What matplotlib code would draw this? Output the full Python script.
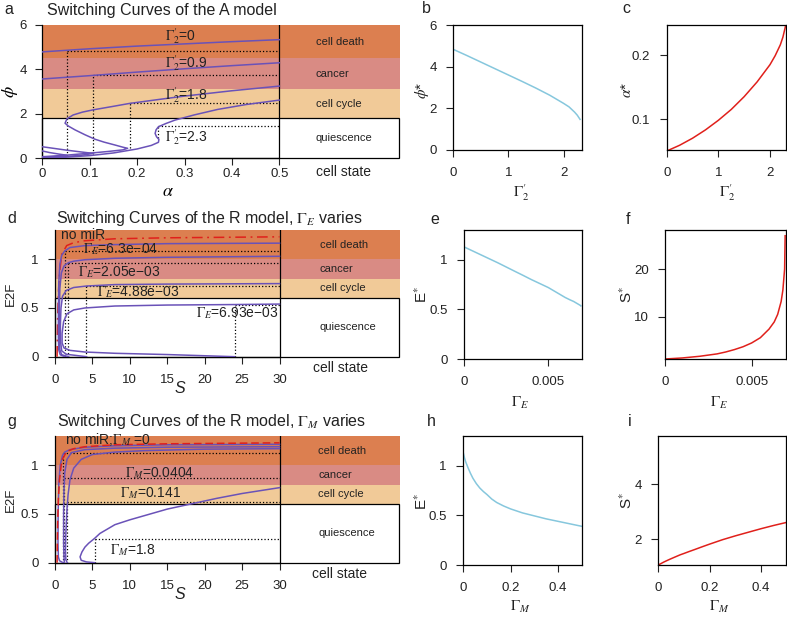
import matplotlib
matplotlib.use("Agg")
import matplotlib.pyplot as plt
from matplotlib.patches import Rectangle

plt.rcParams['font.family'] = ['Liberation Sans', 'DejaVu Sans']
plt.rcParams['mathtext.fontset'] = 'stix'
plt.rcParams['axes.linewidth'] = 0.9

# ---------------- data ----------------
band_names = ['cell death', 'cancer', 'cell cycle', 'quiescence']
a_band_edges = [6.0, 4.5, 3.1, 1.8, 0.0]
r_band_edges = [1.3, 1.0, 0.8, 0.6, 0.0]

# panel a: switching curves (alpha, phi) for Gamma'_2 = 0, 0.9, 1.8, 2.3
a_gamma_labels = ['0', '0.9', '1.8', '2.3']
a_g0_up_alpha = [0, 0.1, 0.2, 0.3, 0.4, 0.5]
a_g0_up_phi = [4.79, 4.93, 5.05, 5.15, 5.25, 5.34]
a_g0_low_alpha = [0, 0.02, 0.04, 0.051, 0.035, 0.015, 0]
a_g0_low_phi = [0.03, 0.06, 0.1, 0.14, 0.19, 0.26, 0.33]
a_g09_up_alpha = [0, 0.1, 0.2, 0.3, 0.4, 0.5]
a_g09_up_phi = [3.57, 3.72, 3.88, 4.03, 4.17, 4.3]
a_g09_low_alpha = [0, 0.04, 0.08, 0.108, 0.08, 0.05, 0.02, 0]
a_g09_low_phi = [0.02, 0.07, 0.13, 0.22, 0.29, 0.37, 0.46, 0.52]
a_g18_alpha = [0, 0.05, 0.1, 0.14, 0.17, 0.18, 0.17, 0.153, 0.13, 0.111, 0.09, 0.069,
               0.055, 0.048, 0.052, 0.065, 0.085, 0.107, 0.15, 0.184, 0.25, 0.3, 0.4, 0.5]
a_g18_phi = [0.07, 0.14, 0.23, 0.31, 0.38, 0.45, 0.5, 0.6, 0.73, 0.86, 1.06, 1.28,
             1.45, 1.58, 1.78, 1.95, 2.08, 2.18, 2.34, 2.47, 2.66, 2.8, 3.04, 3.25]
a_g23_alpha = [0, 0.05, 0.1, 0.15, 0.2, 0.23, 0.245, 0.246, 0.241, 0.238, 0.24, 0.245,
               0.26, 0.28, 0.32, 0.37, 0.43, 0.5]
a_g23_phi = [0.0, 0.05, 0.12, 0.24, 0.42, 0.58, 0.72, 0.85, 0.97, 1.12, 1.28, 1.42,
             1.56, 1.72, 1.95, 2.2, 2.42, 2.62]
a_alpha_star = [0.052, 0.108, 0.184, 0.245]
a_phi_star = [4.85, 3.74, 2.48, 1.45]
a_dot_bottom = [0.12, 0.2, 0.45, 0.9]

# panel b / c
bc_gamma = [0, 0.25, 0.5, 0.75, 1.0, 1.25, 1.5, 1.75, 2.0, 2.1, 2.2, 2.25, 2.3]
b_phi_star = [4.83, 4.53, 4.22, 3.91, 3.6, 3.29, 2.97, 2.63, 2.24, 2.07, 1.82, 1.67, 1.47]
c_alpha_star = [0.05, 0.059, 0.07, 0.083, 0.098, 0.115, 0.135, 0.158, 0.185, 0.199,
                0.216, 0.228, 0.245]

# panel d: R model, Gamma_E varies  (S, E2F)
nomir_S = [0.28, 0.3, 0.35, 0.45, 0.6, 0.9, 1.56, 2.5, 4, 8, 15, 30]
nomir_E = [0.0, 0.15, 0.4, 0.65, 0.85, 1.05, 1.14, 1.17, 1.19, 1.21, 1.22, 1.23]
d_labels = ['6.3e\u221204', '2.05e\u221203', '4.88e\u221203', '6.93e\u221203']
d_e1_S = [30, 15, 8, 4, 2, 1.3, 0.9, 0.65, 0.5, 0.45, 0.45, 0.5, 0.7, 1.3]
d_e1_E = [1.165, 1.16, 1.15, 1.14, 1.12, 1.085, 1.04, 0.95, 0.75, 0.45, 0.2, 0.07, 0.02, 0.0]
d_e2_S = [30, 15, 8, 4, 2.5, 1.8, 1.2, 0.85, 0.65, 0.58, 0.58, 0.65, 0.9, 1.8]
d_e2_E = [1.03, 1.02, 1.01, 0.995, 0.98, 0.965, 0.93, 0.86, 0.7, 0.45, 0.2, 0.07, 0.02, 0.0]
d_e3_S = [30, 15, 8, 4.2, 2.5, 1.5, 1.0, 0.8, 0.72, 0.75, 0.9, 1.5, 4.2]
d_e3_E = [0.75, 0.745, 0.74, 0.725, 0.71, 0.68, 0.62, 0.5, 0.32, 0.15, 0.06, 0.025, 0.0]
d_e4_S = [30, 24, 15, 8, 4, 2.5, 1.6, 1.15, 0.95, 0.95, 1.2, 2, 4, 8, 15, 24]
d_e4_E = [0.54, 0.535, 0.53, 0.52, 0.5, 0.48, 0.44, 0.36, 0.24, 0.14, 0.09, 0.065, 0.048, 0.035, 0.022, 0.0]
d_S_star = [1.3, 1.8, 4.2, 24.0]
d_E_star = [1.08, 0.965, 0.725, 0.535]

# panel e / f
ef_gammaE = [0, 0.001, 0.002, 0.003, 0.0035, 0.004, 0.0045, 0.005, 0.0055, 0.006,
             0.0063, 0.0065, 0.0067, 0.0068, 0.0069, 0.00693]
e_E_star = [1.13, 1.05, 0.97, 0.885, 0.843, 0.8, 0.76, 0.72, 0.67, 0.62,
            0.595, 0.58, 0.56, 0.55, 0.54, 0.535]
f_S_star = [1.13, 1.35, 1.7, 2.2, 2.6, 3.1, 3.7, 4.5, 5.6, 7.4,
            8.9, 10.5, 13.2, 15.6, 20.0, 27.0]

# panel g: R model, Gamma_M varies
g_labels = ['0', '0.0404', '0.141', '1.8']
g_m0_S = [30, 15, 8, 4, 2, 1.3, 1.0, 0.7, 0.5, 0.42, 0.4, 0.45, 0.6, 1.07]
g_m0_E = [1.215, 1.21, 1.2, 1.185, 1.16, 1.135, 1.1, 1.0, 0.8, 0.5, 0.2, 0.06, 0.02, 0.0]
g_m1_S = [30, 15, 8, 4, 2.2, 1.6, 1.3, 1.2, 1.15, 1.15, 1.2, 1.25]
g_m1_E = [1.19, 1.185, 1.175, 1.16, 1.13, 1.06, 0.92, 0.75, 0.5, 0.2, 0.06, 0.0]
g_m2_S = [30, 20, 12, 8, 5, 3.5, 2.5, 2.0, 1.75, 1.6, 1.45, 1.4, 1.45, 1.63]
g_m2_E = [1.17, 1.165, 1.15, 1.135, 1.11, 1.06, 0.97, 0.85, 0.7, 0.55, 0.3, 0.12, 0.03, 0.0]
g_m3_S = [30, 25, 21.6, 15, 10, 8, 6, 5.3, 4.5, 4.0, 3.6, 3.35, 3.5, 4.2, 5.3]
g_m3_E = [0.77, 0.71, 0.66, 0.55, 0.44, 0.39, 0.3, 0.25, 0.2, 0.16, 0.11, 0.06, 0.025, 0.008, 0.0]
g_S_star = [1.07, 1.25, 1.63, 5.3]
g_E_star = [1.13, 0.87, 0.62, 0.24]

# panel h / i
hi_gammaM = [0, 0.005, 0.01, 0.02, 0.03, 0.0404, 0.055, 0.07, 0.085, 0.1, 0.12, 0.141,
             0.17, 0.2, 0.25, 0.3, 0.35, 0.4, 0.45, 0.5]
h_E_star = [1.13, 1.08, 1.04, 0.98, 0.925, 0.875, 0.82, 0.775, 0.74, 0.71, 0.665, 0.63,
            0.595, 0.565, 0.525, 0.495, 0.465, 0.44, 0.415, 0.39]
i_S_star = [1.07, 1.095, 1.12, 1.17, 1.215, 1.26, 1.32, 1.38, 1.44, 1.49, 1.56, 1.63,
            1.73, 1.83, 1.99, 2.13, 2.26, 2.39, 2.51, 2.62]

# ---------------- style ----------------
DEATH = '#DC7F50'
CANCER = '#D98B84'
CYCLE = '#F1CA98'
PURPLE = '#6A52B8'
RED = '#E0201B'
BLUE = '#86C7DD'
band_colors = [DEATH, CANCER, CYCLE]
TXT = '#222222'

W, H = 787, 617
fig = plt.figure(figsize=(W / 100, H / 100), dpi=100)


def add_px(l, t, r, b):
    return fig.add_axes([l / W, 1 - b / H, (r - l) / W, (b - t) / H])


def tick_style(ax, xpad=7.5, ypad=7):
    ax.tick_params(axis='both', direction='out', length=4.8, width=0.8,
                   labelsize=9.5, colors=TXT)
    ax.tick_params(axis='x', pad=xpad)
    ax.tick_params(axis='y', pad=ypad)


def state_panel(ax, edges, xmax, xsplit, text_x):
    for i in range(3):
        ax.axhspan(edges[i + 1], edges[i], color=band_colors[i], lw=0, zorder=0)
    ax.add_patch(Rectangle((0, 0), xmax * 0.997, edges[3], facecolor='white',
                           edgecolor='black', lw=0.9, zorder=0.5, clip_on=False))
    ax.plot([xsplit, xsplit], [0, edges[0]], color='black', lw=0.9, zorder=3)
    for i, name in enumerate(band_names):
        ax.text(text_x, (edges[i] + edges[i + 1]) / 2, name, fontsize=8,
                va='center', ha='left', color=TXT)
    for s in ['top', 'right']:
        ax.spines[s].set_visible(False)


def dotted(ax, xs, ys, y0s, xend):
    for x, y, y0 in zip(xs, ys, y0s):
        ax.plot([x, x], [y0, y], ls=':', color='black', lw=0.9, zorder=2)
        ax.plot([x, xend], [y, y], ls=':', color='black', lw=0.9, zorder=2)


G2 = r"$\Gamma^{\prime}_{2}$"

# ---------------- panel a ----------------
ax = add_px(42.3, 25, 400, 158.3)
amax = 0.7546
ax.set_xlim(0, amax)
ax.set_ylim(0, 6)
state_panel(ax, a_band_edges, amax, 0.5, 0.577)
dotted(ax, a_alpha_star, a_phi_star, a_dot_bottom, 0.5)
for xs, ys in [(a_g0_up_alpha, a_g0_up_phi), (a_g0_low_alpha, a_g0_low_phi),
               (a_g09_up_alpha, a_g09_up_phi), (a_g09_low_alpha, a_g09_low_phi),
               (a_g18_alpha, a_g18_phi), (a_g23_alpha, a_g23_phi)]:
    ax.plot(xs, ys, color=PURPLE, lw=1.1, zorder=4)
for lab, yy in zip(a_gamma_labels, [5.5, 4.28, 2.85, 0.97]):
    ax.text(0.259, yy, G2 + "=" + lab, fontsize=10, va='center', ha='left',
            zorder=5, color=TXT)
ax.set_xticks([0, 0.1, 0.2, 0.3, 0.4, 0.5])
ax.set_xticklabels(['0', '0.1', '0.2', '0.3', '0.4', '0.5'])
ax.set_yticks([0, 2, 4, 6])
ax.set_yticklabels(['0', '2', '4', '6'])
ax.spines['bottom'].set_bounds(0, 0.5)
ax.spines['left'].set_bounds(0, 6)
tick_style(ax, xpad=2.0, ypad=6.5)
ax.text(0.577, -0.1, 'cell state', transform=ax.get_xaxis_transform(), fontsize=10,
        va='center', ha='left', color=TXT)
ax.text(0.265, -0.25, r'$\alpha$', transform=ax.get_xaxis_transform(), fontsize=13,
        ha='center', va='center')
ax.text(-0.09, 3.0, r'$\phi$', transform=ax.get_yaxis_transform(), fontsize=13,
        ha='center', va='center', rotation=90)

# ---------------- panel d ----------------
ax = add_px(55, 230, 400, 356.7)
smax = 46.1
ax.set_xlim(0, smax)
ax.set_ylim(0, 1.3)
state_panel(ax, r_band_edges, smax, 30, 35.4)
dotted(ax, d_S_star, d_E_star, [0, 0, 0, 0], 30)
ax.plot(nomir_S, nomir_E, color=RED, lw=1.1, ls=(0, (7, 3, 1.2, 3)), zorder=4)
for xs, ys in [(d_e1_S, d_e1_E), (d_e2_S, d_e2_E), (d_e3_S, d_e3_E), (d_e4_S, d_e4_E)]:
    ax.plot(xs, ys, color=PURPLE, lw=1.1, zorder=4)
ax.text(0.76, 1.245, 'no miR', fontsize=10, va='center', ha='left', color=TXT, zorder=5)
for lab, xx, yy, ha in zip(d_labels, [3.8, 3.1, 5.6, 29.9], [1.10, 0.87, 0.66, 0.445],
                           ['left', 'left', 'left', 'right']):
    ax.text(xx, yy, r'$\Gamma_E$=' + lab, fontsize=10, va='center', ha=ha,
            color=TXT, zorder=5)

# ---------------- panel g ----------------
ax2 = add_px(55, 436, 400, 562.7)
ax2.set_xlim(0, smax)
ax2.set_ylim(0, 1.3)
state_panel(ax2, r_band_edges, smax, 30, 35.2)
dotted(ax2, g_S_star, g_E_star, [0, 0, 0, 0], 30)
for xs, ys in [(g_m0_S, g_m0_E), (g_m1_S, g_m1_E), (g_m2_S, g_m2_E), (g_m3_S, g_m3_E)]:
    ax2.plot(xs, ys, color=PURPLE, lw=1.1, zorder=4)
ax2.plot(nomir_S, nomir_E, color=RED, lw=1.1, ls=(0, (5, 2.5)), zorder=4)
ax2.text(1.34, 1.26, r'no miR;$\Gamma_M$ =' + g_labels[0], fontsize=10, va='center',
         ha='left', color=TXT, zorder=5)
for lab, xx, yy in zip(g_labels[1:], [9.36, 8.7, 7.35], [0.924, 0.71, 0.13]):
    ax2.text(xx, yy, r'$\Gamma_M$=' + lab, fontsize=10, va='center', ha='left',
             color=TXT, zorder=5)

for a_, cx in ((ax, 0.748), (ax2, 0.744)):
    a_.set_xticks([0, 5, 10, 15, 20, 25, 30])
    a_.set_xticklabels(['0', '5', '10', '15', '20', '25', '30'])
    a_.set_yticks([0, 0.5, 1])
    a_.set_yticklabels(['0', '0.5', '1'])
    a_.spines['bottom'].set_bounds(0, 30)
    a_.spines['left'].set_bounds(0, 1.3)
    tick_style(a_, xpad=7.5, ypad=7)
    a_.text(cx, -0.088, 'cell state', transform=a_.transAxes, fontsize=10,
            va='center', ha='left', color=TXT)
    a_.text(16.7, -0.25, 'S', transform=a_.get_xaxis_transform(), fontsize=11.5,
            fontstyle='italic', ha='center', va='center', color=TXT)
    a_.text(-0.128, 0.5, 'E2F', transform=a_.transAxes, fontsize=9.5, ha='center',
            va='center', rotation=90, color=TXT)

# ---------------- small panels ----------------
small = [
    ((453.3, 25, 581.7, 150), bc_gamma, b_phi_star, BLUE, (0, 2.33), (0, 6),
     [0, 1, 2], ['0', '1', '2'], [0, 2, 4, 6], ['0', '2', '4', '6'],
     G2, r'$\phi$*', (0.53, -0.344), (-0.246, 0.48)),
    ((666.7, 25, 786, 150), bc_gamma, c_alpha_star, RED, (0, 2.31), (0.0516, 0.247),
     [0, 1, 2], ['0', '1', '2'], [0.1, 0.2], ['0.1', '0.2'],
     G2, r'$\alpha$*', (0.51, -0.344), (-0.333, 0.48)),
    ((464, 230, 581.7, 359), ef_gammaE, e_E_star, BLUE, (0, 0.00698), (0, 1.3),
     [0, 0.005], ['0', '0.005'], [0, 0.5, 1], ['0', '0.5', '1'],
     r'$\Gamma_E$', r'E$^{*}$', (0.476, -0.343), (-0.36, 0.5)),
    ((665, 230, 786, 359), ef_gammaE, f_S_star, RED, (0, 0.00698), (1.13, 28.2),
     [0, 0.005], ['0', '0.005'], [10, 20], ['10', '20'],
     r'$\Gamma_E$', r'S$^{*}$', (0.45, -0.343), (-0.315, 0.5)),
    ((463.3, 436, 581.7, 565), hi_gammaM, h_E_star, BLUE, (0, 0.5), (0, 1.3),
     [0, 0.2, 0.4], ['0', '0.2', '0.4'], [0, 0.5, 1], ['0', '0.5', '1'],
     r'$\Gamma_M$', r'E$^{*}$', (0.48, -0.323), (-0.35, 0.49)),
    ((658.3, 436, 786, 565), hi_gammaM, i_S_star, RED, (0, 0.497), (1.07, 5.76),
     [0, 0.2, 0.4], ['0', '0.2', '0.4'], [2, 4], ['2', '4'],
     r'$\Gamma_M$', r'S$^{*}$', (0.48, -0.323), (-0.246, 0.5)),
]
for (box, xs, ys, col, xl, yl, xt, xtl, yt, ytl, xlab, ylab, xlpos, ylpos) in small:
    ax = add_px(*box)
    ax.plot(xs, ys, color=col, lw=1.1, clip_on=True)
    ax.set_xlim(*xl)
    ax.set_ylim(*yl)
    ax.set_xticks(xt)
    ax.set_xticklabels(xtl)
    ax.set_yticks(yt)
    ax.set_yticklabels(ytl)
    tick_style(ax, xpad=7.5, ypad=7)
    ax.text(xlpos[0], xlpos[1], xlab, transform=ax.transAxes, fontsize=11,
            ha='center', va='center', color=TXT)
    ax.text(ylpos[0], ylpos[1], ylab, transform=ax.transAxes, fontsize=11,
            ha='center', va='center', rotation=90, color=TXT)

# ---------------- titles and panel letters ----------------
fig.text(46.7 / W, 1 - 10 / H, 'Switching Curves of the A model', fontsize=11.5,
         ha='left', va='center', color=TXT)
fig.text(56 / W, 1 - 218.3 / H, r'Switching Curves of the R model, $\Gamma_E$ varies',
         fontsize=11.5, ha='left', va='center', color=TXT)
fig.text(57 / W, 1 - 421.7 / H, r'Switching Curves of the R model, $\Gamma_M$ varies',
         fontsize=11.5, ha='left', va='center', color=TXT)
for letter, x, y in [('a', 9, 9), ('b', 426.7, 8.3), ('c', 626.7, 8.3),
                     ('d', 11.7, 218.3), ('e', 435, 220), ('f', 628.3, 220),
                     ('g', 11.7, 421.7), ('h', 431.7, 421.7), ('i', 630, 421.7)]:
    fig.text(x / W, 1 - y / H, letter, fontsize=11.5, ha='center', va='center',
             color=TXT)

fig.savefig('out.png', dpi=100)
